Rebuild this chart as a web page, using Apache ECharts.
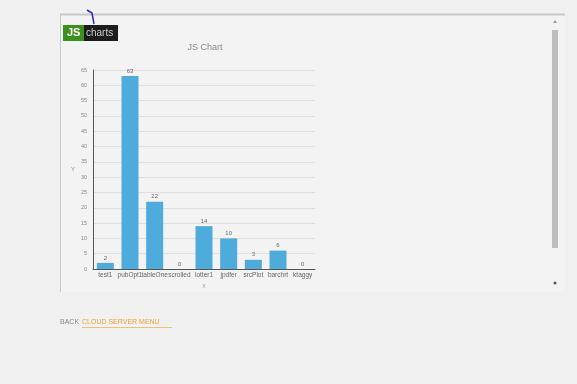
<!DOCTYPE html>
<html><head><meta charset="utf-8">
<script src="https://cdn.jsdelivr.net/npm/echarts@6/dist/echarts.min.js"></script>
<style>html,body{margin:0;padding:0;background:#f0f0f0;}#c{width:577px;height:384px;}</style>
</head><body><div id="c"></div>
<script>
const categories = ['test1','pubOpt1','tableOne','scrolled','lotter1','jpdfer','srcPlot','barchrt','ktaggy'];
const values = [2, 63, 22, 0, 14, 10, 3, 6, 0];
const yTicks = {min: 0, max: 65, interval: 5};
const titleText = 'JS Chart';

const chart = echarts.init(document.getElementById('c'));
chart.setOption({
  backgroundColor: '#f0f0f0',
  animation: false,
  title: {text: titleText, left: 200, top: 38, textAlign: 'center',
    textStyle: {fontSize: 9, fontWeight: 'normal', color: '#8a8a8a', fontFamily: 'Arial'}},
  grid: {left: 93, top: 70, right: 262, bottom: 115},
  xAxis: {type: 'category', data: categories, name: 'X', nameLocation: 'middle', nameGap: 14,
    nameTextStyle: {fontSize: 5, color: '#999'},
    axisLine: {lineStyle: {color: '#555', width: 1}}, axisTick: {show: false},
    axisLabel: {fontSize: 6.5, color: '#666', margin: 3, interval: 0, fontFamily: 'Arial'},
    splitLine: {show: false}},
  yAxis: {type: 'value', min: yTicks.min, max: yTicks.max, interval: yTicks.interval,
    name: 'Y', nameLocation: 'middle', nameGap: 18, nameRotate: 0,
    nameTextStyle: {fontSize: 6, color: '#888'},
    axisLine: {show: true, lineStyle: {color: '#555', width: 1}}, axisTick: {show: false},
    axisLabel: {fontSize: 5.5, color: '#888', margin: 6, fontFamily: 'Arial'},
    splitLine: {lineStyle: {color: '#e0e0e0', width: 1}}},
  series: [{type: 'bar', data: values, barWidth: 17,
    itemStyle: {color: '#4eacdc'},
    label: {show: true, position: 'top', fontSize: 6, color: '#666', distance: 2}}],
  graphic: [
    {type: 'rect', shape: {x: 60, y: 14, width: 505, height: 278}, style: {fill: '#f3f3f3', stroke: null}, z: -10},
    {type: 'line', shape: {x1: 60, y1: 14.5, x2: 565, y2: 14.5}, style: {stroke: '#c8c8c8', lineWidth: 2}},
    {type: 'line', shape: {x1: 60.5, y1: 14, x2: 60.5, y2: 292}, style: {stroke: '#c8c8c8', lineWidth: 1}},
    {type: 'rect', shape: {x: 552, y: 30, width: 6, height: 218}, style: {fill: '#bdbdbd'}},
    {type: 'polygon', shape: {points: [[553, 23], [557, 23], [555, 20]]}, style: {fill: '#999'}},
    {type: 'circle', shape: {cx: 555, cy: 283, r: 1.5}, style: {fill: '#555'}},
    {type: 'rect', shape: {x: 63, y: 25, width: 22, height: 16}, style: {fill: '#3d8f1f'}},
    {type: 'rect', shape: {x: 84, y: 25, width: 34, height: 16}, style: {fill: '#1c1c1c'}},
    {type: 'text', x: 67, y: 27, style: {text: 'JS', fill: '#ffffff', fontSize: 11, fontWeight: 'bold', fontFamily: 'Arial'}},
    {type: 'text', x: 86, y: 28, style: {text: 'charts', fill: '#cccccc', fontSize: 10, fontFamily: 'Arial'}},
    {type: 'polyline', shape: {points: [[87, 10], [92, 13], [94, 24]]}, style: {stroke: '#2a2ab0', lineWidth: 1.5, fill: null}},
    {type: 'text', x: 60, y: 319, style: {text: 'BACK', fill: '#888', fontSize: 7, fontFamily: 'Arial'}},
    {type: 'text', x: 82, y: 319, style: {text: 'CLOUD SERVER MENU', fill: '#e8a33c', fontSize: 7, fontFamily: 'Arial'}},
    {type: 'line', shape: {x1: 82, y1: 327.5, x2: 172, y2: 327.5}, style: {stroke: '#f0c070', lineWidth: 1}}
  ]
});
</script></body></html>
